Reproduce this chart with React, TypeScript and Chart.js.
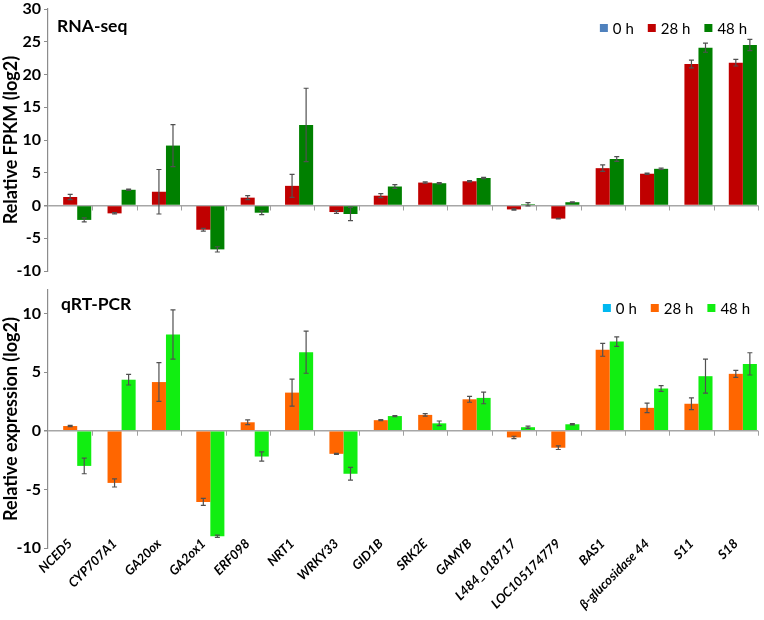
import React, { useEffect, useRef } from 'react';
import { Chart, registerables } from 'chart.js';
Chart.register(...registerables);

const FONT = 'Lato, "Open Sans", "DejaVu Sans", sans-serif';

const categories = ['NCED5', 'CYP707A1', 'GA20ox', 'GA2ox1', 'ERF098', 'NRT1', 'WRKY33', 'GID1B', 'SRK2E', 'GAMYB', 'L484_018717', 'LOC105174779', 'BAS1', 'β-glucosidase 44', 'S11', 'S18'];
const seriesLabels = ['0 h', '28 h', '48 h'];

// RNA-seq (relative FPKM, log2)
const rnaSeq0h = [0, 0, 0, 0, 0, 0, 0, 0, 0, 0, 0, 0, 0, 0, 0, 0];
const rnaSeq28h = [1.3, -1.2, 2.1, -3.7, 1.2, 3.0, -1.0, 1.5, 3.5, 3.7, -0.6, -2.0, 5.7, 4.85, 21.6, 21.8];
const rnaSeq28hErr = [0.4, 0.1, 3.4, 0.2, 0.3, 1.75, 0.2, 0.3, 0.1, 0.1, 0.1, 0.05, 0.5, 0.1, 0.6, 0.5];
const rnaSeq48h = [-2.2, 2.4, 9.15, -6.7, -1.1, 12.3, -1.3, 2.9, 3.4, 4.2, 0.2, 0.5, 7.1, 5.6, 24.1, 24.5];
const rnaSeq48hErr = [0.3, 0.1, 3.2, 0.4, 0.3, 5.6, 1.0, 0.3, 0.1, 0.1, 0.25, 0.05, 0.35, 0.1, 0.7, 0.85];
const rnaSeqTicks = [-10, -5, 0, 5, 10, 15, 20, 25, 30];

// qRT-PCR (relative expression, log2)
const qrt0h = [0, 0, 0, 0, 0, 0, 0, 0, 0, 0, 0, 0, 0, 0, 0, 0];
const qrt28h = [0.4, -4.45, 4.15, -6.07, 0.72, 3.25, -1.97, 0.9, 1.35, 2.68, -0.57, -1.45, 6.9, 1.95, 2.3, 4.85];
const qrt28hErr = [0.05, 0.35, 1.65, 0.3, 0.2, 1.15, 0.05, 0.05, 0.1, 0.25, 0.1, 0.15, 0.55, 0.4, 0.5, 0.3];
const qrt48h = [-3.0, 4.35, 8.2, -9.0, -2.2, 6.7, -3.67, 1.25, 0.63, 2.8, 0.3, 0.55, 7.6, 3.6, 4.65, 5.7];
const qrt48hErr = [0.67, 0.45, 2.1, 0.1, 0.4, 1.8, 0.55, 0.05, 0.2, 0.5, 0.1, 0.05, 0.4, 0.25, 1.45, 0.95];
const qrtTicks = [-10, -5, 0, 5, 10];

const errorBarPlugin = {
  id: 'errorBars',
  afterDatasetsDraw(chart: any) {
    const ctx = chart.ctx;
    const ys = chart.scales.y;
    chart.data.datasets.forEach((ds: any, i: number) => {
      if (!ds.errors) return;
      const meta = chart.getDatasetMeta(i);
      meta.data.forEach((bar: any, j: number) => {
        const v = ds.data[j];
        const e = ds.errors[j];
        const x = bar.x;
        const yt = ys.getPixelForValue(v + e);
        const yb = ys.getPixelForValue(v - e);
        ctx.save();
        ctx.strokeStyle = '#505050';
        ctx.lineWidth = 1.2;
        ctx.beginPath();
        ctx.moveTo(x, yt); ctx.lineTo(x, yb);
        ctx.moveTo(x - 2.5, yt); ctx.lineTo(x + 2.5, yt);
        ctx.moveTo(x - 2.5, yb); ctx.lineTo(x + 2.5, yb);
        ctx.stroke();
        ctx.restore();
      });
    });
  },
};

const zeroAxisTicksPlugin = {
  id: 'zeroAxisTicks',
  beforeDatasetsDraw(chart: any) {
    const ctx = chart.ctx;
    const xs = chart.scales.x;
    const ys = chart.scales.y;
    const y0 = ys.getPixelForValue(0);
    const n = chart.data.labels.length;
    ctx.save();
    ctx.strokeStyle = '#a0a0a0';
    ctx.lineWidth = 1;
    ctx.beginPath();
    for (let i = 1; i <= n; i++) {
      const x = Math.round(xs.getPixelForValue(i - 0.5)) + 0.5;
      ctx.moveTo(x, y0);
      ctx.lineTo(x, y0 + 5);
    }
    ctx.stroke();
    ctx.restore();
  },
};

const overlayPlugin = {
  id: 'overlay',
  afterDraw(chart: any, _args: any, opts: any) {
    const ctx = chart.ctx;
    const area = chart.chartArea;
    ctx.save();
    // panel label
    ctx.font = `bold 17.5px ${FONT}`;
    ctx.fillStyle = '#000';
    ctx.textBaseline = 'alphabetic';
    ctx.textAlign = 'left';
    ctx.fillText(opts.panel, area.left + opts.panelDx, area.top + opts.panelDy);
    // legend
    ctx.font = `15px ${FONT}`;
    const box = 8, gapBT = 5, gapItem = 14;
    const items = chart.data.datasets.map((d: any) => ({ label: d.label, color: d.backgroundColor, w: ctx.measureText(d.label).width }));
    const total = items.reduce((s: number, it: any) => s + box + gapBT + it.w, 0) + gapItem * (items.length - 1);
    let x = area.right - opts.legendRight - total;
    const cy = area.top + opts.legendDy;
    ctx.textBaseline = 'middle';
    items.forEach((it: any) => {
      ctx.fillStyle = it.color;
      ctx.fillRect(x, cy - box / 2, box, box);
      ctx.fillStyle = '#000';
      ctx.fillText(it.label, x + box + gapBT, cy + 1);
      x += box + gapBT + it.w + gapItem;
    });
    ctx.restore();
  },
};

function buildConfig(p: any) {
  return {
    type: 'bar',
    data: {
      labels: categories,
      datasets: p.series.map((s: any) => ({
        label: s.label,
        data: s.data,
        errors: s.errors,
        backgroundColor: s.color,
        borderWidth: 0,
        categoryPercentage: 0.95,
        barPercentage: 1,
      })),
    },
    options: {
      responsive: false,
      animation: false,
      devicePixelRatio: 1,
      layout: { padding: p.padding },
      plugins: {
        legend: { display: false },
        tooltip: { enabled: false },
        overlay: { panel: p.panel, panelDx: p.panelDx, panelDy: p.panelDy, legendDy: p.legendDy, legendRight: p.legendRight },
      },
      scales: {
        x: p.showX
          ? {
              grid: { display: false, drawTicks: false },
              border: { display: false },
              ticks: {
                autoSkip: false,
                maxRotation: 45,
                minRotation: 45,
                padding: -12,
                color: '#000',
                font: { family: FONT, size: 13, weight: 'bold', style: 'italic' },
              },
              afterFit: (s: any) => {
                s.height = p.xHeight;
                s.paddingLeft = 0;
                s.paddingRight = 0;
                s._computeLabelArea = () => undefined;
              },
            }
          : { display: false },
        y: {
          min: p.min,
          max: p.max,
          afterBuildTicks: (s: any) => { s.ticks = p.ticks.map((v: number) => ({ value: v })); },
          afterFit: (s: any) => {
            s.width = 48;
            s.paddingTop = 0;
            s.paddingBottom = 0;
          },
          grid: {
            color: (c: any) => (c.tick && c.tick.value === 0 ? '#a6a6a6' : 'rgba(0,0,0,0)'),
            lineWidth: (c: any) => (c.tick && c.tick.value === 0 ? 1.5 : 1),
            tickColor: '#8c8c8c',
            tickLength: 4,
            drawTicks: true,
          },
          border: { color: '#8c8c8c', width: 1.2 },
          ticks: {
            color: '#000',
            padding: 3,
            font: { family: FONT, size: 16, weight: 'bold', lineHeight: 1.1 },
          },
          title: {
            display: true,
            text: p.title,
            color: '#000',
            padding: { top: 0, bottom: 0 },
            font: { family: FONT, size: 18, weight: 'bold' },
          },
        },
      },
    },
    plugins: [zeroAxisTicksPlugin, errorBarPlugin, overlayPlugin],
  };
}

export default function App() {
  const topRef = useRef<HTMLCanvasElement>(null);
  const botRef = useRef<HTMLCanvasElement>(null);

  useEffect(() => {
    const c1 = new Chart(topRef.current as any, buildConfig({
      series: [
        { label: seriesLabels[0], data: rnaSeq0h, color: '#4F81BD' },
        { label: seriesLabels[1], data: rnaSeq28h, errors: rnaSeq28hErr, color: '#C00000' },
        { label: seriesLabels[2], data: rnaSeq48h, errors: rnaSeq48hErr, color: '#008000' },
      ],
      ticks: rnaSeqTicks,
      min: -10,
      max: 30,
      title: 'Relative FPKM (log2)',
      panel: 'RNA-seq',
      panelDx: 9,
      panelDy: 23,
      legendDy: 19,
      legendRight: 11,
      showX: false,
      padding: { top: 9, right: 6, bottom: 9, left: 0 },
    }) as any);
    const c2 = new Chart(botRef.current as any, buildConfig({
      series: [
        { label: seriesLabels[0], data: qrt0h, color: '#00B8F0' },
        { label: seriesLabels[1], data: qrt28h, errors: qrt28hErr, color: '#FF6600' },
        { label: seriesLabels[2], data: qrt48h, errors: qrt48hErr, color: '#11EE11' },
      ],
      ticks: qrtTicks,
      min: -10,
      max: 12,
      title: 'Relative expression (log2)',
      panel: 'qRT-PCR',
      panelDx: 13,
      panelDy: 19.5,
      legendDy: 18,
      legendRight: 8,
      showX: true,
      xHeight: 72,
      padding: { top: 10, right: 6, bottom: 0, left: 0 },
    }) as any);
    return () => { c1.destroy(); c2.destroy(); };
  }, []);

  return (
    <div style={{ position: 'absolute', left: 0, top: 0, width: 764, height: 620, background: '#fff' }}>
      <canvas ref={topRef} width={764} height={280} style={{ position: 'absolute', left: 0, top: 0 }} />
      <canvas ref={botRef} width={764} height={340} style={{ position: 'absolute', left: 0, top: 280 }} />
    </div>
  );
}
